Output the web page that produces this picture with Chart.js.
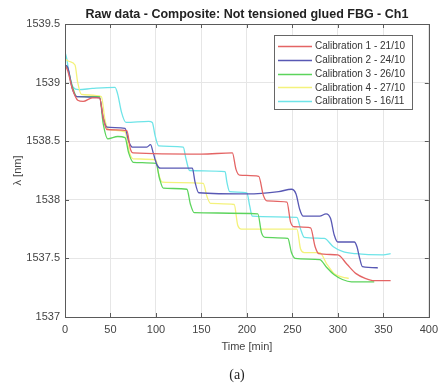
<!DOCTYPE html>
<html><head><meta charset="utf-8">
<script src="https://cdn.jsdelivr.net/npm/chart.js@4.4.1/dist/chart.umd.min.js"></script>
<style>html,body{margin:0;padding:0;background:#fff}canvas{display:block}</style>
</head><body>
<canvas id="c" width="444" height="388"></canvas>
<script>
const chartTitle = "Raw data - Composite: Not tensioned glued FBG - Ch1";
const xTitle = "Time [min]";
const yTitle = "λ [nm]";
const caption = "(a)";
const seriesLabels = ["Calibration 1 - 21/10","Calibration 2 - 24/10","Calibration 3 - 26/10","Calibration 4 - 27/10","Calibration 5 - 16/11"];
const seriesColors = ["#e46464","#5858b4","#5cd45c","#f4f27c","#6ee4e8"];

const cal1T = [0,3,8,14,20,30,38,42,46,68,72,75,150,184,188,192,213,218,222,244,248,252,270,275,279,300,310,320,330,340,358];
const cal1V = [1539.15,1539.10,1538.95,1538.85,1538.84,1538.87,1538.87,1538.70,1538.60,1538.59,1538.43,1538.40,1538.39,1538.40,1538.26,1538.21,1538.20,1538.04,1537.99,1537.98,1537.81,1537.77,1537.76,1537.60,1537.54,1537.53,1537.45,1537.37,1537.33,1537.31,1537.31];

const cal2T = [0,3,8,13,38,42,46,66,70,74,90,94,97,101,105,140,143,147,200,235,249,254,258,262,280,287,292,296,300,318,321,324,327,344];
const cal2V = [1539.15,1539.13,1538.95,1538.88,1538.87,1538.70,1538.62,1538.61,1538.50,1538.45,1538.45,1538.47,1538.40,1538.30,1538.27,1538.27,1538.15,1538.06,1538.05,1538.07,1538.09,1538.05,1537.92,1537.86,1537.86,1537.88,1537.84,1537.70,1537.64,1537.64,1537.60,1537.50,1537.43,1537.42];

const cal3T = [0,3,8,13,38,42,47,58,66,70,75,100,104,108,134,138,142,212,216,220,245,249,253,280,288,296,305,315,340];
const cal3V = [1539.15,1539.12,1538.97,1538.88,1538.88,1538.65,1538.52,1538.54,1538.53,1538.40,1538.32,1538.31,1538.18,1538.10,1538.09,1537.96,1537.89,1537.88,1537.72,1537.68,1537.67,1537.55,1537.50,1537.49,1537.42,1537.36,1537.32,1537.30,1537.30];

const cal4T = [0,5,11,14,18,40,44,48,66,71,75,100,103,107,152,156,160,186,190,194,255,259,263,280,288,296,305,312];
const cal4V = [1539.20,1539.18,1539.15,1539.00,1538.90,1538.88,1538.68,1538.60,1538.58,1538.40,1538.35,1538.34,1538.22,1538.15,1538.14,1538.03,1537.97,1537.96,1537.78,1537.75,1537.75,1537.58,1537.55,1537.55,1537.45,1537.37,1537.34,1537.33];

const cal5T = [0,2,5,9,15,30,55,58,62,67,92,96,99,103,130,133,137,176,178,181,200,203,206,255,259,263,285,295,305,320,350,358];
const cal5V = [1539.26,1539.20,1539.05,1538.96,1538.94,1538.95,1538.96,1538.90,1538.75,1538.66,1538.67,1538.66,1538.55,1538.46,1538.45,1538.35,1538.25,1538.24,1538.15,1538.07,1538.06,1537.95,1537.86,1537.85,1537.75,1537.68,1537.67,1537.60,1537.56,1537.54,1537.53,1537.54];

const xTicks = [0,50,100,150,200,250,300,350,400];
const yTicks = [1537,1537.5,1538,1538.5,1539,1539.5];

const allT = [cal1T,cal2T,cal3T,cal4T,cal5T];
const allV = [cal1V,cal2V,cal3V,cal4V,cal5V];

const datasets = allT.map((t,i)=>({
  label: seriesLabels[i],
  data: t.map((x,j)=>({x:x,y:allV[i][j]})),
  borderColor: seriesColors[i],
  backgroundColor: seriesColors[i],
  borderWidth: 1.3,
  pointRadius: 0,
  cubicInterpolationMode: 'monotone',
  fill: false
}));

const FONT = "'Liberation Sans', Arial, sans-serif";

const deco = {
  id: 'deco',
  afterDraw(chart) {
    const ctx = chart.ctx, a = chart.chartArea;
    const xs = chart.scales.x, ys = chart.scales.y;
    ctx.save();
    ctx.strokeStyle = '#5a5a5a';
    ctx.lineWidth = 1;
    ctx.strokeRect(Math.round(a.left)+0.5, Math.round(a.top)+0.5, Math.round(a.right-a.left), Math.round(a.bottom-a.top));
    ctx.beginPath();
    xTicks.forEach(v=>{
      const px = Math.round(xs.getPixelForValue(v))+0.5;
      ctx.moveTo(px, a.bottom); ctx.lineTo(px, a.bottom-4);
      ctx.moveTo(px, a.top); ctx.lineTo(px, a.top+4);
    });
    yTicks.forEach(v=>{
      const py = Math.round(ys.getPixelForValue(v))+0.5;
      ctx.moveTo(a.left, py); ctx.lineTo(a.left+4, py);
      ctx.moveTo(a.right, py); ctx.lineTo(a.right-4, py);
    });
    ctx.stroke();
    ctx.fillStyle = '#222';
    ctx.font = "bold 12.5px " + FONT;
    ctx.textAlign = 'center'; ctx.textBaseline = 'middle';
    ctx.fillText(chartTitle, (a.left+a.right)/2, 15);
    ctx.fillStyle = '#444';
    ctx.font = "11px " + FONT;
    ctx.fillText(xTitle, (a.left+a.right)/2, 347);
    ctx.save();
    ctx.translate(18, (a.top+a.bottom)/2);
    ctx.rotate(-Math.PI/2);
    ctx.fillText(yTitle, 0, 0);
    ctx.restore();
    ctx.fillStyle = '#222';
    ctx.font = "14px 'Liberation Serif', 'DejaVu Serif', serif";
    ctx.fillText(caption, 237, 375);
    const lx = 274, ly = 35, lw = 138, lh = 74;
    ctx.fillStyle = '#fff';
    ctx.fillRect(lx, ly, lw, lh);
    ctx.strokeStyle = '#666';
    ctx.strokeRect(lx+0.5, ly+0.5, lw, lh);
    ctx.font = "10px " + FONT;
    ctx.textAlign = 'left';
    seriesLabels.forEach((lab,i)=>{
      const y = 46 + i*13.8;
      ctx.strokeStyle = seriesColors[i];
      ctx.lineWidth = 1.3;
      ctx.beginPath(); ctx.moveTo(278, Math.round(y)+0.5); ctx.lineTo(312, Math.round(y)+0.5); ctx.stroke();
      ctx.fillStyle = '#333';
      ctx.fillText(lab, 315, y+0.5);
    });
    ctx.restore();
  }
};

new Chart(document.getElementById('c'), {
  type: 'line',
  data: { datasets },
  options: {
    responsive: false,
    animation: false,
    devicePixelRatio: 1,
    layout: { padding: { top: 24, right: 9, left: 0, bottom: 0 } },
    plugins: { legend: { display: false }, title: { display: false }, tooltip: { enabled: false } },
    scales: {
      x: {
        type: 'linear', min: 0, max: 400,
        afterFit: s => { s.height = 71; },
        afterBuildTicks: s => { s.ticks = xTicks.map(v=>({value:v})); },
        ticks: { font: { size: 11, family: FONT }, color: '#444', padding: 6, maxRotation: 0, autoSkip: false, callback: v => String(v) },
        grid: { color: '#e6e6e6', drawTicks: false },
        border: { display: false }
      },
      y: {
        type: 'linear', min: 1537, max: 1539.5,
        afterFit: s => { s.width = 65; },
        afterBuildTicks: s => { s.ticks = yTicks.map(v=>({value:v})); },
        ticks: { font: { size: 11, family: FONT }, color: '#444', padding: 5, autoSkip: false, callback: v => String(v) },
        grid: { color: '#e6e6e6', drawTicks: false },
        border: { display: false }
      }
    }
  },
  plugins: [deco]
});
</script>
</body></html>
